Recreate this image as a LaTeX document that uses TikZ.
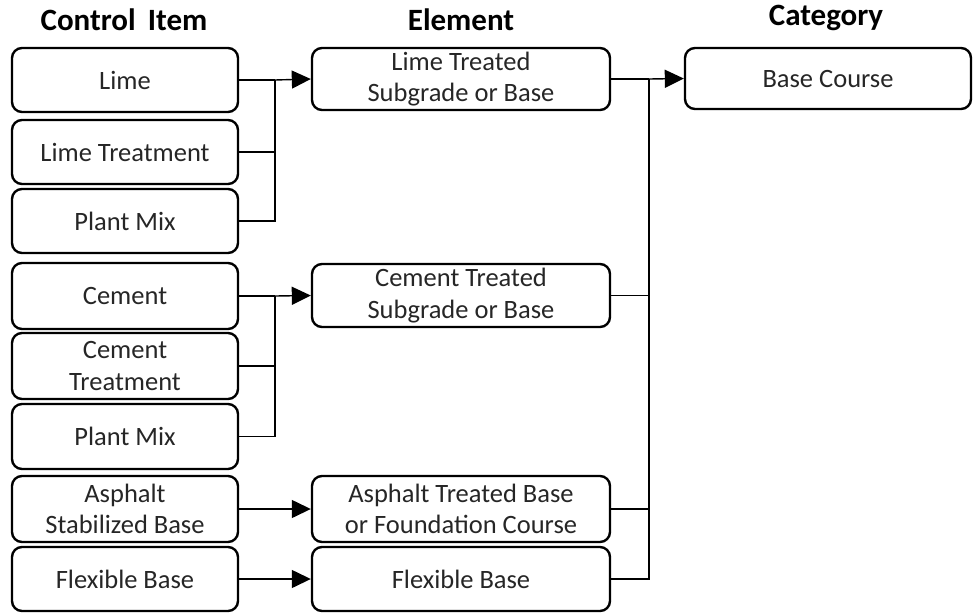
\documentclass[tikz,border=0pt]{standalone}
\usepackage{fontspec}
\setmainfont{Carlito}
\usetikzlibrary{arrows.meta}
\begin{document}
\begin{tikzpicture}[x=1pt,y=-1pt,
  box/.style={draw, line width=2.4pt, rounded corners=10pt, align=center, inner sep=0pt,
    text=black!85, font=\fontsize{26.5}{31.5}\selectfont},
  lbox/.style={box, minimum width=226pt},
  mbox/.style={box, minimum width=298pt},
  rbox/.style={box, minimum width=286pt},
  head/.style={font=\fontsize{31}{36}\selectfont\bfseries},
  conn/.style={line width=1.4pt},
  arr/.style={conn, -{Triangle[length=19pt,width=18pt]}}]
\useasboundingbox (0,0) rectangle (974,613);
% headers
\node[head] (h1) at (124,20) {Control\, Item};
\node[head] (h2) at (461,20) {Element};
\node[head] (h3) at (826,18) {Category};
% left column
\node[lbox, minimum height=64pt] (lime) at (125,80) {Lime};
\node[lbox, minimum height=64pt] (limet) at (125,152) {Lime Treatment};
\node[lbox, minimum height=64pt] (pm1) at (125,221) {Plant Mix};
\node[lbox, minimum height=66pt] (cem) at (125,296) {Cement};
\node[lbox, minimum height=66pt] (cemt) at (125,366) {Cement\\Treatment};
\node[lbox, minimum height=65pt] (pm2) at (125,436.5) {Plant Mix};
\node[lbox, minimum height=66pt] (asb) at (125,509) {Asphalt\\Stabilized Base};
\node[lbox, minimum height=64pt] (fb1) at (125,579) {Flexible Base};
% middle column
\node[mbox, minimum height=62pt] (ltsb) at (461,79) {Lime Treated\\Subgrade or Base};
\node[mbox, minimum height=63pt] (ctsb) at (461,295.5) {Cement Treated\\Subgrade or Base};
\node[mbox, minimum height=66pt] (atb) at (461,509) {Asphalt Treated Base\\or Foundation Course};
\node[mbox, minimum height=64pt] (fb2) at (461,579) {Flexible Base};
% right column
\node[rbox, minimum height=61pt] (bc) at (828,78.5) {Base Course};
% junctions
\coordinate (j1) at (275,80);
\coordinate (j2) at (275,296);
\coordinate (j3) at (649,79);
% lime group
\draw[conn] (lime.east) -- (j1);
\draw[arr] (j1) -- (ltsb.west);
\draw[conn] (limet.east) -- (limet.east -| j1);
\draw[conn] (pm1.east) -| (j1);
% cement group
\draw[conn] (cem.east) -- (j2);
\draw[arr] (j2) -- (ctsb.west);
\draw[conn] (cemt.east) -- (cemt.east -| j2);
\draw[conn] (pm2.east) -| (j2);
% asphalt & flexible
\draw[arr] (asb.east) -- (atb.west);
\draw[arr] (fb1.east) -- (fb2.west);
% right side
\draw[conn] (ltsb.east) -- (j3);
\draw[arr] (j3) -- (bc.west);
\draw[conn] (ctsb.east) -- (ctsb.east -| j3);
\draw[conn] (atb.east) -- (atb.east -| j3);
\draw[conn] (fb2.east) -| (j3);
\end{tikzpicture}
\end{document}
